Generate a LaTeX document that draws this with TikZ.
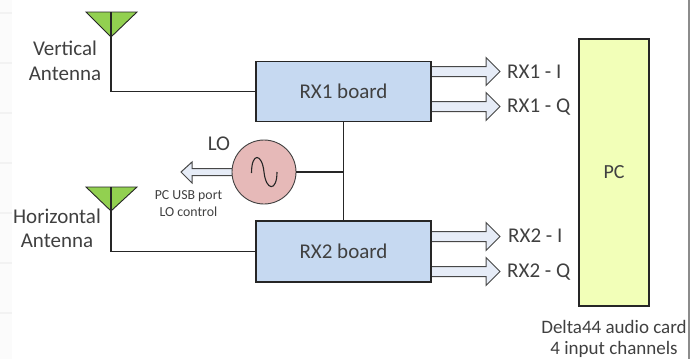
\documentclass[tikz,border=0pt]{standalone}
\usepackage{fontspec}
\setmainfont{Carlito}
\usetikzlibrary{calc}
\definecolor{boxblue}{HTML}{C6D9F1}
\definecolor{pcyellow}{HTML}{F2FFB8}
\definecolor{antgreen}{HTML}{92D050}
\definecolor{lopink}{HTML}{E6B9B8}
\definecolor{arrowfill}{HTML}{E6ECF7}
\definecolor{txt}{HTML}{404040}
\definecolor{edgeC}{HTML}{262626}
\tikzset{
  x=1pt,y=-1pt,
  every node/.style={text=txt,font=\fontsize{21}{25}\selectfont,align=center,inner sep=0pt},
  wire/.style={draw=edgeC,line width=1.1pt},
  board/.style={draw=edgeC,line width=1.1pt,fill=boxblue,minimum width=175pt,minimum height=60pt},
  blockarrow/.style={draw=edgeC!85!white,line width=1pt,fill=arrowfill,line join=miter},
  antfill/.style={draw=edgeC,line width=0.9pt,fill=antgreen,line join=miter}
}
\newcommand{\outarrow}[2]{% start coordinate name, tip coordinate name
  \draw[blockarrow] (#1) ++(0,-5) -- ($(#2)+(-14,-5)$) -- ($(#2)+(-14,-14)$) -- (#2)
    -- ($(#2)+(-14,14)$) -- ($(#2)+(-14,5)$) -- ($(#1)+(0,5)$);
}
\begin{document}
\begin{tikzpicture}
\useasboundingbox (0,0) rectangle (690,359);
% page edge marks
\fill[black!1.5] (0,0) rectangle (12,359);
\foreach \yy in {13,63,113,163,213,263,313}
  \fill[black!5] (0,\yy-1) rectangle (12,\yy+1);
\fill[black!45] (688,0) rectangle (690,359);
% output arrows, behind the boards
\coordinate (s1) at (431,71.5);  \coordinate (e1) at (500,71.5);
\coordinate (s2) at (431,106.5); \coordinate (e2) at (500,106.5);
\coordinate (s3) at (431,236.5); \coordinate (e3) at (500,236.5);
\coordinate (s4) at (431,271.5); \coordinate (e4) at (500,271.5);
\outarrow{s1}{e1}
\outarrow{s2}{e2}
\outarrow{s3}{e3}
\outarrow{s4}{e4}
% LO arrow
\coordinate (lotip) at (181,172);
\draw[blockarrow] (233,168.5) -- (192,168.5) -- (192,162) -- (lotip) -- (192,183) -- (192,175.5) -- (233,175.5);
% nodes
\coordinate (ant1) at (111,37);
\coordinate (ant1top) at (111,12);
\coordinate (ant2) at (111,211);
\coordinate (ant2top) at (111,187);
\node[board] (rx1) at (343.5,91.5) {RX1 board};
\node[board,minimum height=61pt] (rx2) at (343.5,251.5) {RX2 board};
\node[draw=edgeC,line width=1.1pt,fill=pcyellow,minimum width=70pt,minimum height=267pt,font=\fontsize{20}{24}\selectfont] (pc) at (614,172.5) {PC};
\node[circle,draw=txt,line width=0.9pt,fill=lopink,minimum size=64pt] (osc) at (264,172) {};
% antennas
\draw[antfill] (86,12) -- (137,12) -- (ant1) -- cycle;
\draw[wire] (ant1top) -- (ant1) -- (ant1 |- rx1.west) -- (rx1.west);
\draw[antfill] (86,187) -- (137,187) -- (ant2) -- cycle;
\draw[wire] (ant2top) -- (ant2) -- (ant2 |- rx2.west) -- (rx2.west);
% LO bus
\draw[wire] (rx1.south) -- (rx2.north);
\coordinate (busj) at (rx1.south |- osc.east);
\draw[wire] (osc.east) -- (busj);
% sine
\draw[draw=edgeC,line width=1.1pt] (251.5,173) .. controls (251.5,152) and (262,153) .. (264,172)
  .. controls (266,191) and (277,192) .. (277,172);
% labels
\node (t1) at (65,48.5) {Vertical};
\node (t2) at (65,74) {Antenna};
\node (t3) at (57,216) {Horizontal};
\node (t4) at (57,241) {Antenna};
\node (t5) at (219,144) {LO};
\node[font=\fontsize{13.8}{17}\selectfont] (t6) at (188.5,204) {PC USB port\\LO control};
\node[anchor=west] (l1) at (507,72) {RX1 - I};
\node[anchor=west] (l2) at (507,107) {RX1 - Q};
\node[anchor=west] (l3) at (508,236) {RX2 - I};
\node[anchor=west] (l4) at (507,272) {RX2 - Q};
\node[font=\fontsize{19}{23}\selectfont] (t7) at (614,326.5) {Delta44 audio card};
\node[font=\fontsize{19}{23}\selectfont] (t8) at (614,349.5) {4 input channels};
\end{tikzpicture}
\end{document}
